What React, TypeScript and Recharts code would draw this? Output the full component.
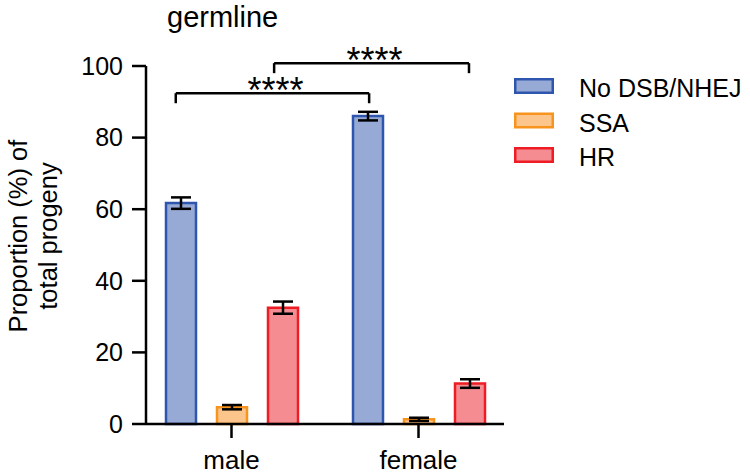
import React from "react";
import {
  BarChart, Bar, XAxis, YAxis, ErrorBar, ReferenceLine, Legend,
} from "recharts";

const categories = ["male", "female"];
const noDsb = [61.7, 86.0];
const noDsbErr = [1.6, 1.2];
const ssa = [4.7, 1.3];
const ssaErr = [0.6, 0.45];
const hr = [32.5, 11.3];
const hrErr = [1.7, 1.2];
const yTicks = [0, 20, 40, 60, 80, 100];

// brackets, x as a fraction of the category span (0 = left of male, 1 = right of female)
const brackets = [
  { from: 0.101, to: 0.618, y: 92.4, leg: 89.6, text: "****" },
  { from: 0.364, to: 0.885, y: 100.8, leg: 98.0, text: "****" },
];

const series = [
  { key: "noDsb", name: "No DSB/NHEJ", fill: "#97aad6", stroke: "#2f56ae" },
  { key: "ssa", name: "SSA", fill: "#fcc58c", stroke: "#f7941e" },
  { key: "hr", name: "HR", fill: "#f58c92", stroke: "#ee1c25" },
];

const data = categories.map((c, i) => ({
  cat: c,
  noDsb: noDsb[i], noDsbErr: noDsbErr[i],
  ssa: ssa[i], ssaErr: ssaErr[i],
  hr: hr[i], hrErr: hrErr[i],
}));

const FONT = "'Liberation Sans', Arial, sans-serif";

const LegendBox = () => (
  <svg width={250} height={120} style={{ display: "block" }}>
    {series.map((s, i) => (
      <g key={s.key}>
        <rect x={15.25} y={19.25 + i * 34.5} width={37.5} height={13.5}
          fill={s.fill} stroke={s.stroke} strokeWidth={2.5} />
        <text x={79} y={37 + i * 34.5} fontSize={25} fontFamily={FONT} fill="#000">
          {s.name}
        </text>
      </g>
    ))}
  </svg>
);

const YLabel = ({ viewBox }: any) => (
  <g fontFamily={FONT} fontSize={25.5} fill="#000">
    <text transform="translate(27,236) rotate(-90)" textAnchor="middle">Proportion (%) of</text>
    <text transform="translate(57,236) rotate(-90)" textAnchor="middle">total progeny</text>
  </g>
);

const Stars = (text: string) => ({ viewBox }: any) => (
  <text x={viewBox.x + viewBox.width / 2 + 3} y={viewBox.y + 10} textAnchor="middle"
    fontSize={36} fontFamily={FONT} fill="#000">{text}</text>
);

export default function App() {
  return (
    <div style={{ position: "absolute", left: 0, top: 0, width: 750, height: 476, background: "#fff" }}>
      <div style={{ position: "absolute", left: 167, top: 2.5, fontFamily: FONT, fontSize: 29, lineHeight: "29px" }}>
        germline
      </div>
      <BarChart width={750} height={476} data={data}
        margin={{ top: 66, right: 246, bottom: 22, left: 66 }}
        barSize={30} barGap={21}>
        <XAxis dataKey="cat" xAxisId={0} height={30} padding={{ left: -8, right: -8 }}
          axisLine={{ stroke: "#000", strokeWidth: 2.5 }}
          tickLine={{ stroke: "#000", strokeWidth: 2.5 }} tickSize={14} tickMargin={13}
          tick={{ fill: "#000", fontSize: 26, fontFamily: FONT }} />
        <XAxis xAxisId="br" type="number" domain={[0, 1]} allowDataOverflow hide
          padding={{ left: -8, right: -8 }} />
        <YAxis domain={[0, 100]} ticks={yTicks} width={80} interval={0}
          axisLine={{ stroke: "#000", strokeWidth: 2.5 }}
          tickLine={{ stroke: "#000", strokeWidth: 2.5 }} tickSize={14} tickMargin={9}
          tick={{ fill: "#000", fontSize: 25, fontFamily: FONT }}
          label={{ content: YLabel }} />
        {series.map((s) => (
          <Bar key={s.key} dataKey={s.key} name={s.name} fill={s.fill} stroke={s.stroke}
            strokeWidth={2.5} isAnimationActive={false}>
            <ErrorBar dataKey={s.key + "Err"} width={10} stroke="#000" strokeWidth={2.5} />
          </Bar>
        ))}
        {brackets.map((b, i) => (
          <React.Fragment key={i}>
            <ReferenceLine xAxisId="br" ifOverflow="visible" stroke="#000" strokeWidth={2.5}
              segment={[{ x: b.from, y: b.leg }, { x: b.from, y: b.y }]} />
            <ReferenceLine xAxisId="br" ifOverflow="visible" stroke="#000" strokeWidth={2.5}
              segment={[{ x: b.to, y: b.leg }, { x: b.to, y: b.y }]} />
            <ReferenceLine xAxisId="br" ifOverflow="visible" stroke="#000" strokeWidth={2.5}
              segment={[{ x: b.from, y: b.y }, { x: b.to, y: b.y }]}
              label={{ content: Stars(b.text) }} />
          </React.Fragment>
        ))}
        <Legend layout="vertical" align="center" verticalAlign="middle"
          wrapperStyle={{ position: "absolute", left: 500, top: 60, width: 250, height: 120 }}
          content={() => <LegendBox />} />
      </BarChart>
    </div>
  );
}
